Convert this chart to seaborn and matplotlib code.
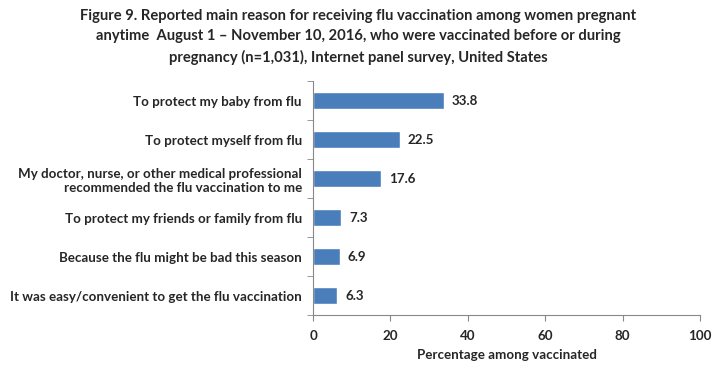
import matplotlib
matplotlib.use('Agg')
import matplotlib.pyplot as plt
import seaborn as sns
import pandas as pd
import numpy as np

reasons = [
    'To protect my baby from flu',
    'To protect myself from flu',
    'My doctor, nurse, or other medical professional\nrecommended the flu vaccination to me',
    'To protect my friends or family from flu',
    'Because the flu might be bad this season',
    'It was easy/convenient to get the flu vaccination',
]
percentages = [33.8, 22.5, 17.6, 7.3, 6.9, 6.3]
x_ticks = [0, 20, 40, 60, 80, 100]

title = ('Figure 9. Reported main reason for receiving flu vaccination among women pregnant\n'
         'anytime  August 1 \u2013 November 10, 2016, who were vaccinated before or during\n'
         'pregnancy (n=1,031), Internet panel survey, United States')

sns.set_style('white')
plt.rcParams['font.family'] = ['Lato', 'DejaVu Sans']
plt.rcParams['font.weight'] = 'bold'

df = pd.DataFrame({'reason': reasons, 'pct': percentages})

fig = plt.figure(figsize = (7.17, 3.70), dpi = 100)
ax = fig.add_axes([0.4366, 0.1486, 0.9763 - 0.4366, 0.781 - 0.1486])

sns.barplot(data = df, x = 'pct', y = 'reason', color = '#4a7ebb', width = 0.42,
            saturation = 1, ax = ax)

# value labels to the right of each bar
for i, v in enumerate(percentages):
    ax.text(v + 2, i, f'{v:.1f}', va = 'center', ha = 'left', fontsize = 9.6, fontweight = 'bold')

ax.set_xlim(0, 100)
ax.set_ylim(len(reasons) - 0.5, -0.5)
ax.set_xticks(x_ticks)
ax.set_xticklabels([str(t) for t in x_ticks], fontsize = 9.6, fontweight = 'bold')
ax.set_yticks(range(len(reasons)))
ax.set_yticklabels(reasons, fontsize = 9.6, fontweight = 'bold', linespacing = 1.25)

# tick marks sit between categories
ax.set_yticks(np.arange(-0.5, len(reasons), 1), minor = True)
ax.tick_params(axis = 'y', which = 'major', length = 0, pad = 8)
ax.tick_params(axis = 'y', which = 'minor', length = 4, color = '#888888', direction = 'out', left = True)
ax.tick_params(axis = 'x', length = 4, color = '#888888', direction = 'out', bottom = True, pad = 7)
ax.set_xlabel('Percentage among vaccinated', fontsize = 9.6, fontweight = 'bold', labelpad = 5)
ax.set_ylabel('')

for side in ['top', 'right']:
    ax.spines[side].set_visible(False)
for side in ['left', 'bottom']:
    ax.spines[side].set_color('#888888')
    ax.spines[side].set_linewidth(0.8)

fig.text(0.5, 0.975, title, ha = 'center', va = 'top', fontsize = 10.6, fontweight = 'bold',
         linespacing = 1.55)

fig.savefig('out.png', dpi = 100)
